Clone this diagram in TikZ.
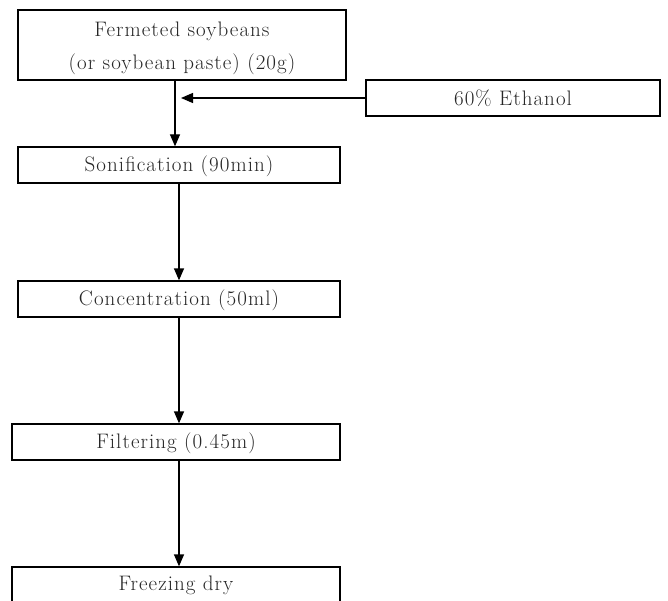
\documentclass[tikz,border=0pt]{standalone}
\usepackage{fontspec}
\setmainfont{Latin Modern Roman}[LetterSpace=5]
\usetikzlibrary{arrows.meta}
\begin{document}
\begin{tikzpicture}[x=1pt,y=1pt,
  stepbox/.style={draw,line width=1.3pt,inner sep=0pt,font=\fontsize{21}{25}\selectfont,text=black!85},
  flow/.style={line width=1.3pt,-{Triangle[length=12pt,width=10pt]}}]
\useasboundingbox (0,0) rectangle (668,-601);
\clip (0,0) rectangle (668,-601);
\node[stepbox,minimum width=328pt,minimum height=70pt,align=center] (raw) at (182,-45)
  {\rule{0pt}{22pt}Fermeted soybeans\\[8pt](or soybean paste) (20g)};
\node[stepbox,minimum width=294pt,minimum height=36pt] (eth) at (513,-98) {60\% Ethanol};
\node[stepbox,minimum width=322pt,minimum height=36pt] (son) at (179,-165) {\rule{0pt}{19pt}Sonification (90min)};
\node[stepbox,minimum width=322pt,minimum height=36pt] (con) at (179,-299) {\rule{0pt}{19pt}Concentration (50ml)};
\node[stepbox,minimum width=328pt,minimum height=36pt] (fil) at (176,-442) {\rule{0pt}{19pt}Filtering (0.45m)};
\node[stepbox,minimum width=328pt,minimum height=36pt] (frz) at (176,-585) {Freezing dry};
\coordinate (j) at (175,-98);
\coordinate (jt) at (181,-98);
\coordinate (k) at (179,0);
\draw[flow] (raw.south -| j) -- (son.north -| j);
\draw[flow] (eth.west) -- (jt);
\draw[flow] (son.south -| k) -- (con.north -| k);
\draw[flow] (con.south -| k) -- (fil.north -| k);
\draw[flow] (fil.south -| k) -- (frz.north -| k);
\end{tikzpicture}
\end{document}
